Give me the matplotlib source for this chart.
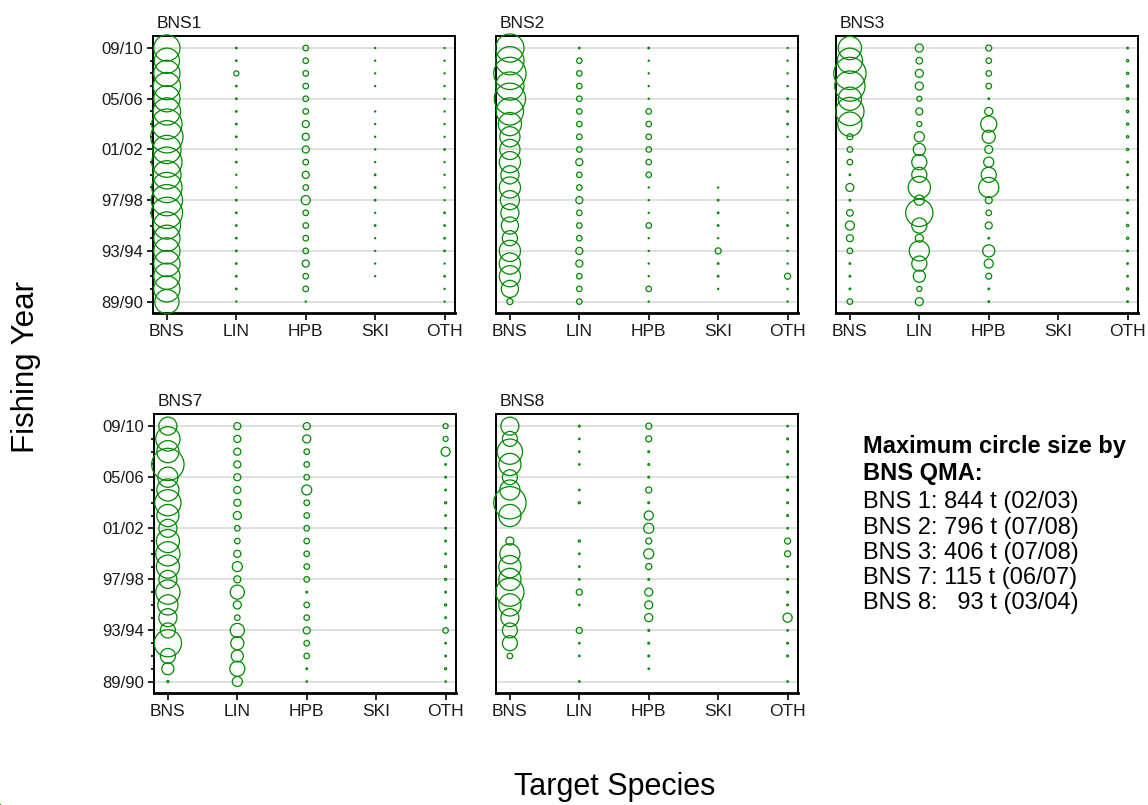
import numpy as np
import matplotlib
matplotlib.use('Agg')
import matplotlib.pyplot as plt

plt.rcParams['font.family'] = ['Liberation Sans', 'DejaVu Sans']

years = ['89/90', '90/91', '91/92', '92/93', '93/94', '94/95', '95/96',
         '96/97', '97/98', '98/99', '99/00', '00/01', '01/02', '02/03',
         '03/04', '04/05', '05/06', '06/07', '07/08', '08/09', '09/10']
species = ['BNS', 'LIN', 'HPB', 'SKI', 'OTH']

# estimated catch (t) by target species, rows in species order, columns by year
bns1 = [
    [475, 557, 557, 557, 557, 557, 601, 792, 792, 742, 646, 742, 646, 844, 742, 601, 557, 601, 557, 515, 557],
    [1, 2, 2, 2, 2, 2, 2, 2, 2, 1, 1, 2, 1, 2, 2, 2, 2, 2, 21, 2, 2],
    [1, 25, 25, 40, 25, 25, 25, 25, 67, 25, 40, 25, 40, 40, 40, 25, 25, 25, 25, 25, 25],
    [0, 0, 1, 1, 1, 1, 2, 1, 2, 2, 2, 1, 1, 1, 1, 1, 0, 1, 1, 1, 1],
    [1, 1, 2, 1, 2, 2, 2, 2, 1, 1, 1, 1, 2, 1, 1, 1, 1, 1, 1, 1, 1],
]
bns2 = [
    [28, 225, 343, 343, 343, 175, 225, 252, 280, 343, 252, 343, 311, 311, 411, 566, 747, 609, 796, 609, 609],
    [23, 23, 23, 38, 38, 23, 23, 23, 38, 23, 23, 38, 23, 23, 23, 23, 23, 23, 23, 23, 2],
    [1, 23, 1, 1, 1, 1, 23, 1, 1, 1, 23, 23, 23, 23, 23, 23, 1, 1, 1, 1, 2],
    [0, 1, 2, 2, 28, 1, 2, 2, 2, 1, 0, 0, 0, 0, 0, 0, 0, 0, 0, 0, 0],
    [1, 1, 28, 1, 1, 1, 2, 1, 1, 1, 1, 1, 1, 1, 2, 2, 2, 1, 1, 1, 1],
]
bns3 = [
    [12, 1, 1, 1, 12, 19, 32, 17, 1, 25, 1, 12, 12, 14, 228, 311, 210, 357, 406, 248, 210],
    [25, 10, 57, 89, 158, 25, 89, 289, 40, 192, 89, 89, 57, 40, 10, 19, 10, 25, 25, 17, 25],
    [1, 1, 14, 32, 57, 1, 19, 12, 19, 158, 89, 40, 25, 67, 101, 25, 1, 12, 12, 12, 14],
    [0, 0, 0, 0, 0, 0, 0, 0, 0, 0, 0, 0, 0, 0, 0, 0, 0, 0, 0, 0, 0],
    [1, 2, 1, 1, 1, 2, 2, 1, 1, 1, 1, 1, 2, 2, 2, 2, 2, 2, 2, 2, 1],
]
bns7 = [
    [0.5, 16, 25, 82, 25, 36, 45, 65, 36, 59, 65, 59, 36, 54, 76, 54, 45, 115, 54, 65, 36],
    [11, 25, 16, 19, 22, 3.4, 7.2, 22, 5.5, 11, 5.5, 3.4, 3.4, 7.2, 5.5, 5.5, 5.5, 5.5, 5.5, 5.5, 5.5],
    [0.2, 0.3, 3.4, 3.4, 5.5, 3.4, 3.4, 0.3, 3.4, 3.4, 3.4, 3.4, 3.4, 3.4, 3.4, 11, 3.4, 3.4, 3.4, 7.2, 5.5],
    [0, 0, 0, 0, 0, 0, 0, 0, 0, 0, 0, 0, 0, 0, 0, 0, 0, 0, 0, 0, 0],
    [0.2, 0.5, 0.3, 0.3, 3.4, 0.3, 0.5, 0.3, 0.5, 0.5, 0.3, 0.3, 0.3, 0.3, 0.5, 0.3, 0.3, 0.3, 9.1, 2.8, 2.8],
]
bns8 = [
    [0, 0, 2.7, 20, 20, 29, 44, 71, 44, 44, 36, 5.8, 0, 44, 93, 36, 20, 44, 57, 20, 29],
    [0.2, 0, 0.2, 0.2, 3.3, 0, 0.2, 3.3, 0.2, 0.2, 0.2, 0.4, 0, 0, 0.4, 0.2, 0, 0.2, 0.2, 0.2, 0.3],
    [0, 0.2, 0.3, 0.3, 0.3, 5.8, 5.8, 5.8, 0.3, 3.3, 9.1, 3.3, 9.1, 7.4, 0.3, 3.3, 0.3, 0.3, 0.3, 3.3, 3.3],
    [0, 0, 0, 0, 0, 0, 0, 0, 0, 0, 0, 0, 0, 0, 0, 0, 0, 0, 0, 0, 0],
    [0.2, 0, 0.3, 0.3, 0.2, 7.4, 0.3, 0.3, 0.2, 0.2, 3.3, 3.3, 0.2, 0.3, 0.3, 0.3, 0.3, 0.2, 0.3, 0.3, 0.2],
]

GREEN = '#008a00'
S_MAX = 540.0          # marker area (pt^2) of the largest catch in a panel
W, H = 1148, 805

# (name, data, left px, top px, height px, y labels)
panels = [
    ('BNS1', bns1, 153, 36, 277, True),
    ('BNS2', bns2, 496, 36, 277, False),
    ('BNS3', bns3, 836, 36, 277, False),
    ('BNS7', bns7, 154, 414, 279, True),
    ('BNS8', bns8, 496, 414, 279, False),
]

fig = plt.figure(figsize=(W / 100, H / 100), dpi=100)

legend_lines = []
for name, data, left, top, height, ylab in panels:
    ax = fig.add_axes([left / W, 1 - (top + height) / H, 302 / W, height / H])
    vals = np.array(data, dtype=float)
    vmax = vals.max()
    yidx = np.arange(len(years))
    for j, row in enumerate(vals):
        keep = row > 0
        ax.scatter(np.full(keep.sum(), j), yidx[keep], s=S_MAX * row[keep] / vmax,
                   facecolors='none', edgecolors=GREEN, linewidths=0.9,
                   zorder=3, clip_on=False)

    ax.set_xlim(-0.2, 4.15)
    ax.set_ylim(-0.9, 20.95)
    ax.set_xticks(range(len(species)))
    ax.set_xticklabels(species, fontsize=12.5, color='#1a1a1a')
    ax.set_yticks(range(0, 21, 4))
    ax.set_yticks(range(21), minor=True)
    ax.set_yticklabels(years[::4], fontsize=12, color='#1a1a1a')
    ax.tick_params(axis='x', direction='out', length=5, width=1.2, pad=3)
    ax.tick_params(axis='y', which='major', direction='out', length=4, width=1.2, pad=3)
    ax.tick_params(axis='y', which='minor', direction='out', length=2, width=1.2)
    if not ylab:
        ax.tick_params(axis='y', which='both', left=False, labelleft=False)
    ax.grid(axis='y', which='major', color='#dddddd', lw=1.3)
    ax.set_axisbelow(True)
    for side in ax.spines.values():
        side.set_linewidth(1.4)
    ax.spines['bottom'].set_linewidth(2.0)
    ax.text(4 / 302, 1 + 8 / height, name, transform=ax.transAxes,
            fontsize=12.5, color='#1a1a1a', va='baseline', ha='left')

    k = int(np.argmax(vals.max(axis=0)))
    num = '%d' % round(vmax)
    legend_lines.append('BNS %s: %s%s t (%s)' % (name[3:], '  ' * (3 - len(num)), num, years[k]))

# legend block, one text per line (baselines in px from the top)
heading = ['Maximum circle size by', 'BNS QMA:']
baselines = [453, 480, 508, 534, 559, 584, 609]
for i, line in enumerate(heading + legend_lines):
    fig.text(863 / W, 1 - baselines[i] / H, line, fontsize=17,
             fontweight='bold' if i < len(heading) else 'normal',
             va='baseline', ha='left')

fig.text(26 / W, 1 - 367 / H, 'Fishing Year', fontsize=22.5, rotation=90,
         va='center', ha='center')
fig.text(615 / W, 1 - 795 / H, 'Target Species', fontsize=22,
         va='baseline', ha='center')

fig.savefig('out.png', dpi=100)
